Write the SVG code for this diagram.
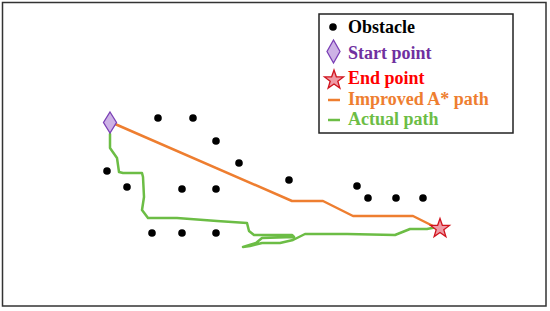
<svg xmlns="http://www.w3.org/2000/svg" width="550" height="311" viewBox="0 0 550 311">
<style>
.ob{fill:#000}
.lt{font-family:"Liberation Serif",serif;font-weight:bold;font-size:18px}
.dia{fill:#CDB2E6;stroke:#7A3FB5;stroke-width:1.3}
.star{fill:#EF9AA5;stroke:#D0141E;stroke-width:1.3}
.orange{fill:none;stroke:#EE7E30;stroke-width:2.5;stroke-linejoin:round}
.green{fill:none;stroke:#6CBD45;stroke-width:2.5;stroke-linejoin:round;stroke-linecap:round}
</style>
<defs>
<circle id="dot" r="3.8"/>
<polygon id="starshape" points="0,-10 2.35,-3.24 9.51,-3.09 3.8,1.24 5.88,8.09 0,4 -5.88,8.09 -3.8,1.24 -9.51,-3.09 -2.35,-3.24"/>
</defs>
<rect x="2.5" y="2.5" width="543.5" height="303.5" fill="#fff" stroke="#333" stroke-width="1.5"/>
<g id="obstacles" class="ob">
<use href="#dot" x="158" y="118"/>
<use href="#dot" x="193" y="118"/>
<use href="#dot" x="216" y="141"/>
<use href="#dot" x="239" y="163"/>
<use href="#dot" x="289" y="180"/>
<use href="#dot" x="107" y="171"/>
<use href="#dot" x="127" y="187"/>
<use href="#dot" x="182" y="189"/>
<use href="#dot" x="216" y="189"/>
<use href="#dot" x="152" y="233"/>
<use href="#dot" x="182" y="233"/>
<use href="#dot" x="216" y="233"/>
<use href="#dot" x="357" y="186"/>
<use href="#dot" x="368" y="198"/>
<use href="#dot" x="396" y="198"/>
<use href="#dot" x="423" y="198"/>
</g>
<g id="connectors">
<polyline class="orange" points="115,124 292,201 323,201 353,216 413,216 437,228"/>
<polyline class="green" points="110,134 110,148 117,158 119,172 123,173 142,173 143,177 144,197 142,210 148,218 177,218 217,221 247,223 249,231 254,235 292,235 294,237 262,238 256,243 243,247 250,246 262,243 280,243 293,240 305,234 347,234 395,235 410,229 427,229 437,227"/>
</g>
<g id="start">
<polygon class="dia" points="110,112 116.5,122.5 110,133 103.5,122.5"/>
</g>
<g id="end">
<use href="#starshape" class="star" x="440" y="228.5"/>
</g>
<g id="legend">
<rect x="319" y="14" width="194" height="119" fill="#fff" stroke="#222" stroke-width="1.5"/>
<circle cx="333" cy="27" r="3.8"/>
<text class="lt" x="348" y="33" fill="#000">Obstacle</text>
<polygon class="dia" points="333.5,40 340,51.5 333.5,63 327,51.5"/>
<text class="lt" x="348" y="58.5" fill="#7030A0">Start point</text>
<use href="#starshape" class="star" x="334" y="80"/>
<text class="lt" x="348" y="83.5" fill="#FF0000">End point</text>
<line x1="328" y1="100" x2="340" y2="100" stroke="#EE7E30" stroke-width="2.5"/>
<text class="lt" x="348" y="105" fill="#EE7E30">Improved A* path</text>
<line x1="328" y1="120" x2="340" y2="120" stroke="#6CBD45" stroke-width="2.5"/>
<text class="lt" x="348" y="125" fill="#6CBD45">Actual path</text>
</g>
</svg>
